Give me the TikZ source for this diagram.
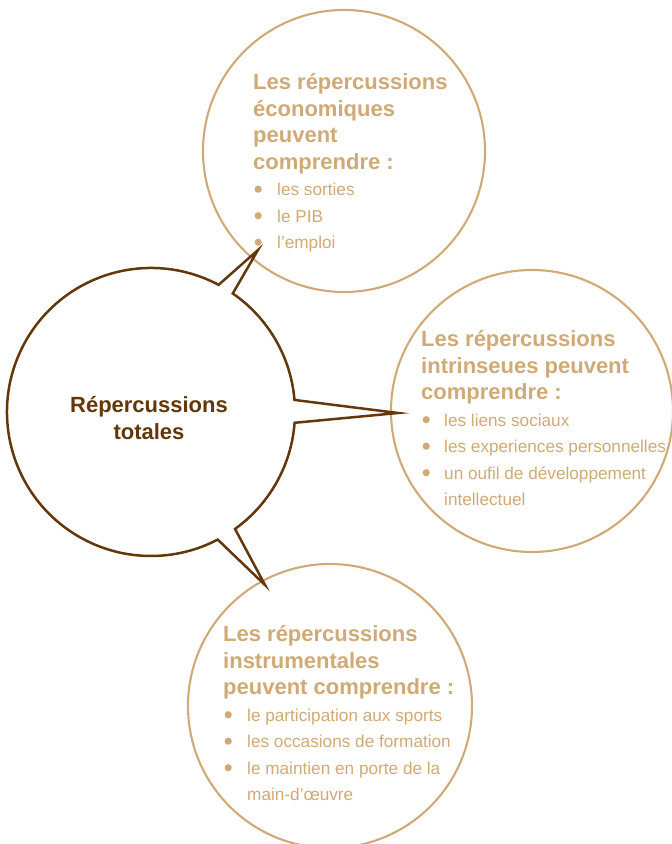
\documentclass[tikz,border=0pt]{standalone}
\usepackage{fontspec}
\setmainfont{Liberation Sans}
\usetikzlibrary{calc}
\definecolor{tanc}{RGB}{208,170,118}
\definecolor{darkbrown}{RGB}{99,55,10}
\newcommand{\hdfont}{\fontsize{22}{26.5}\selectfont\bfseries}
\newcommand{\hd}[1]{\multicolumn{2}{@{}l@{}}{\hdfont #1}}
\newcommand{\bul}{\tikz[baseline=0pt]{\useasboundingbox (0pt,0pt) rectangle (10pt,1pt); \fill[tanc] (5pt,6.8pt) circle[radius=3.6pt];}}
\tikzset{
  tancirc/.style={circle, draw=tanc, line width=2.1pt, minimum size=282pt, inner sep=0pt},
  brownline/.style={draw=darkbrown, line width=2.5pt, line join=miter, miter limit=20},
  blocktext/.style={anchor=base west, inner sep=0pt, text=tanc, font=\fontsize{17.2}{26.5}\selectfont},
  maintext/.style={anchor=base, inner sep=0pt, text=darkbrown, font=\fontsize{22}{27}\selectfont\bfseries}
}
\begin{document}
\begin{tikzpicture}[x=1pt,y=1pt]
\useasboundingbox (0,0) rectangle (672,844);
\clip (0,0) rectangle (672,844);
% outer circles
\node[tancirc] (econ) at (344,693) {};
\node[tancirc] (intr) at (532,433) {};
\node[tancirc, minimum size=284pt] (instr) at (330,138) {};
% speech bubble
\coordinate (mc) at (151,432);
\coordinate (t1) at (258,594);
\coordinate (t2) at (398,431);
\coordinate (t3) at (265,259);
\draw[brownline] ($(mc)+(4.8:144pt)$) arc[start angle=4.8, end angle=55.4, radius=144pt]
  -- (t1) -- ($(mc)+(62:144pt)$) arc[start angle=62, end angle=297.6, radius=144pt]
  -- (t3) -- ($(mc)+(305.7:144pt)$) arc[start angle=305.7, end angle=355.7, radius=144pt]
  -- (t2) -- cycle;
\node[maintext] (mtxt) at (149,431) {\begin{tabular}[t]{@{}c@{}}Répercussions\\totales\end{tabular}};
% texts
\node[blocktext] (econtxt) at (253,754) {\begin{tabular}[t]{@{}l@{\hspace{14pt}}l@{}}
\hd{Les répercussions}\\
\hd{économiques}\\
\hd{peuvent}\\
\hd{comprendre :}\\
\bul & les sorties\\
\bul & le PIB\\
\bul & l’emploi
\end{tabular}};
\node[blocktext] (intrtxt) at (421,497) {\begin{tabular}[t]{@{}l@{\hspace{13pt}}l@{}}
\hd{Les répercussions}\\
\hd{intrinseues peuvent}\\
\hd{comprendre :}\\
\bul & les liens sociaux\\
\bul & les experiences personnelles\\
\bul & un oufil de développement\\
 & intellectuel
\end{tabular}};
\node[blocktext] (instrtxt) at (223,202) {\begin{tabular}[t]{@{}l@{\hspace{14pt}}l@{}}
\hd{Les répercussions}\\
\hd{instrumentales}\\
\hd{peuvent comprendre :}\\
\bul & le participation aux sports\\
\bul & les occasions de formation\\
\bul & le maintien en porte de la\\
 & main-d’œuvre
\end{tabular}};
\end{tikzpicture}
\end{document}
